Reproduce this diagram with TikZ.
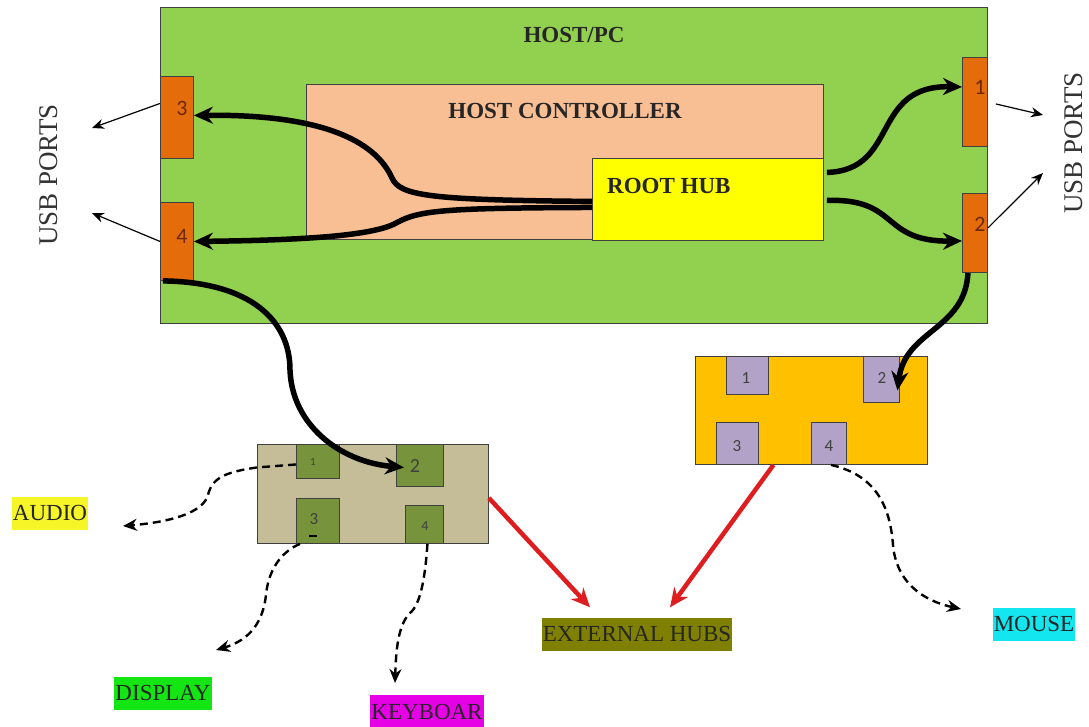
\documentclass[tikz,border=0pt]{standalone}
\usepackage{fontspec}
\setmainfont{Liberation Serif}
\newfontfamily\numfont{Carlito}
\usetikzlibrary{arrows.meta}
\definecolor{hostgreen}{RGB}{146,208,80}
\definecolor{peach}{RGB}{248,190,148}
\definecolor{rhyellow}{RGB}{255,255,0}
\definecolor{portorange}{RGB}{228,108,10}
\definecolor{hubtan}{RGB}{196,189,151}
\definecolor{olivep}{RGB}{119,147,60}
\definecolor{hubgold}{RGB}{255,192,0}
\definecolor{lav}{RGB}{179,162,199}
\definecolor{arrred}{RGB}{222,30,30}
\definecolor{lblolive}{RGB}{128,128,0}
\definecolor{lblgreen}{RGB}{20,230,20}
\definecolor{lblmag}{RGB}{230,0,230}
\definecolor{lblcyan}{RGB}{20,230,240}
\definecolor{lblyellow}{RGB}{245,245,40}
\definecolor{digitbrown}{RGB}{110,40,10}
\begin{document}
\begin{tikzpicture}[x=1pt,y=-1pt,
  box/.style={draw=black!75, line width=0.9pt, inner sep=0pt, anchor=north west},
  port/.style={box, fill=portorange},
  title/.style={font=\bfseries\fontsize{23}{23}\selectfont, text=black!85, inner sep=0pt},
  pnum/.style={font=\numfont\fontsize{22}{22}\selectfont, text=digitbrown, inner sep=0pt},
  hnum/.style={font=\numfont\fontsize{17}{17}\selectfont, text=black!75, inner sep=0pt},
  usb/.style={font=\fontsize{27}{27}\selectfont, text=black!80, rotate=90, inner sep=0pt},
  lbl/.style={font=\fontsize{23}{23}\selectfont, text=black!85, inner xsep=1pt, minimum height=33pt},
  conn/.style={line width=5.5pt, -{Stealth[length=19pt,width=17pt]}},
  thinarr/.style={line width=1.2pt, -{Stealth[length=12pt,width=10pt]}},
  dconn/.style={line width=2.4pt, dash pattern=on 8pt off 5pt, -{Stealth[length=14pt,width=12pt]}},
  redconn/.style={draw=arrred, line width=4.5pt, -{Stealth[length=19pt,width=17pt]}}]
\useasboundingbox[fill=white] (0,0) rectangle (1089,726);

% host
\node[box, fill=hostgreen, minimum width=827pt, minimum height=316pt] (host) at (160,7) {};
\node[title] (hosttitle) at (574,35) {HOST/PC};
\node[box, fill=peach, minimum width=517pt, minimum height=155pt] (hc) at (306,84) {};
\node[title] (hctitle) at (565,111) {HOST CONTROLLER};
\node[box, fill=rhyellow, minimum width=231pt, minimum height=82pt] (rh) at (592,158) {};
\node[title, anchor=west] (rhtitle) at (607,186) {ROOT HUB};

% ports
\node[port, minimum width=33pt, minimum height=82pt] (p3) at (160,76) {};
\node[pnum] (p3n) at (182,108) {3};
\node[port, minimum width=33pt, minimum height=78pt] (p4) at (160,202) {};
\node[pnum] (p4n) at (182,236) {4};
\node[port, minimum width=25pt, minimum height=89pt] (p1) at (962,57) {};
\node[pnum] (p1n) at (980,87) {1};
\node[port, minimum width=25pt, minimum height=79pt] (p2) at (962,193) {};
\node[pnum] (p2n) at (980,224) {2};

% USB PORTS labels
\node[usb] (usbl) at (49,175) {USB PORTS};
\node[usb] (usbr) at (1074,143) {USB PORTS};
\coordinate (l3) at (92,128);
\coordinate (l4) at (92,213);
\coordinate (r1) at (1043,115);
\coordinate (r2) at (1043,173);
\draw[thinarr] ([yshift=14pt]p3.west) -- (l3);
\draw[thinarr] (p4.west) -- (l4);
\draw[thinarr] ([xshift=8pt,yshift=-2pt]p1.east) -- (r1);
\draw[thinarr] ([yshift=5pt]p2.east) -- (r2);

% root hub connections
\draw[conn] ([yshift=-2pt]rh.west) .. controls (430,200) and (400,196) .. (392,178)
  .. controls (375,140) and (320,114) .. ([yshift=2pt]p3.east);
\draw[conn] ([yshift=-8pt]rh.west) .. controls (450,208) and (420,210) .. (398,222)
  .. controls (380,233) and (330,240) .. (p4.east);
\draw[conn] ([xshift=3pt,yshift=27pt]rh.east) .. controls (900,170) and (870,85) .. ([yshift=15pt]p1.west);
\draw[conn] ([xshift=3pt,yshift=-1pt]rh.east) .. controls (900,198) and (880,242) .. ([yshift=-8pt]p2.west);

% gray hub
\node[box, fill=hubtan, minimum width=231pt, minimum height=99pt] (ghub) at (257,444) {};
\node[box, fill=olivep, minimum width=43pt, minimum height=34pt] (gp1) at (296,444) {};
\node[hnum, font=\numfont\fontsize{11}{11}\selectfont] (gp1n) at (313,462) {1};
\node[box, fill=olivep, minimum width=47pt, minimum height=42pt] (gp2) at (396,444) {};
\node[hnum, font=\numfont\fontsize{20}{20}\selectfont] (gp2n) at (415,466) {2};
\node[box, fill=olivep, minimum width=43pt, minimum height=45pt] (gp3) at (296,498) {};
\node[hnum] (gp3n) at (314,519) {3};
\node[box, fill=olivep, minimum width=38pt, minimum height=38pt] (gp4) at (405,505) {};
\node[hnum, font=\numfont\fontsize{14}{14}\selectfont] (gp4n) at (425,526) {4};

% orange hub
\node[box, fill=hubgold, minimum width=232pt, minimum height=108pt] (ohub) at (695,356) {};
\node[box, fill=lav, minimum width=42pt, minimum height=38pt] (op1) at (726,356) {};
\node[hnum] (op1n) at (746,378) {1};
\node[box, fill=lav, minimum width=36pt, minimum height=46pt] (op2) at (863,356) {};
\node[hnum] (op2n) at (882,378) {2};
\node[box, fill=lav, minimum width=42pt, minimum height=42pt] (op3) at (716,422) {};
\node[hnum] (op3n) at (737,446) {3};
\node[box, fill=lav, minimum width=35pt, minimum height=42pt] (op4) at (811,422) {};
\node[hnum] (op4n) at (829,446) {4};

% connections to hubs
\draw[conn] ([xshift=-14pt]p4.south) .. controls (250,282) and (290,320) .. (290,370)
  .. controls (292,425) and (340,462) .. ([xshift=-16pt,yshift=-2pt]gp2.center);
\draw[conn] ([xshift=-7pt]p2.south) .. controls (965,330) and (905,330) .. ([xshift=16pt,yshift=-11pt]op2.center);

% labels
\node[lbl, fill=lblyellow] (audio) at (50,513) {AUDIO};
\node[lbl, fill=lblgreen] (display) at (163,693) {DISPLAY};
\node[lbl, fill=lblmag, anchor=north] (keyb) at (427,695) {KEYBOAR};
\node[lbl, fill=lblolive] (ext) at (637,634) {EXTERNAL HUBS};
\node[lbl, fill=lblcyan] (mouse) at (1034,624) {MOUSE};

% dashed device links
\coordinate (audiotip) at (123,526);
\coordinate (disptip) at (216,650);
\coordinate (keybtip) at (395,683);
\coordinate (mousetip) at (961,609);
\draw[dconn] ([yshift=-3pt]gp1.west) -- ([yshift=-6pt]gp1.west -| ghub.west)
  .. controls (225,472) and (212,478) .. (208,495)
  .. controls (203,513) and (170,522) .. (audiotip);
\draw[line width=2.4pt] (309,536) -- (317,536);
\draw[dconn] ([xshift=4pt]gp3.south west) .. controls (280,552) and (268,572) .. (266,595)
  .. controls (263,622) and (250,640) .. (disptip);
\draw[dconn] ([xshift=3pt]gp4.south) .. controls (425,580) and (420,605) .. (410,613)
  .. controls (398,625) and (396,650) .. (keybtip);
\draw[dconn] ([xshift=20pt]op4.south west) .. controls (875,475) and (890,505) .. (893,545)
  .. controls (896,580) and (920,600) .. (mousetip);

% red arrows to external hubs
\draw[redconn] ([yshift=-54pt]ghub.north east) -- ([xshift=-47pt,yshift=10pt]ext.north);
\draw[redconn] ([xshift=-38pt]ohub.south) -- ([xshift=33pt,yshift=10pt]ext.north);
\end{tikzpicture}
\end{document}
